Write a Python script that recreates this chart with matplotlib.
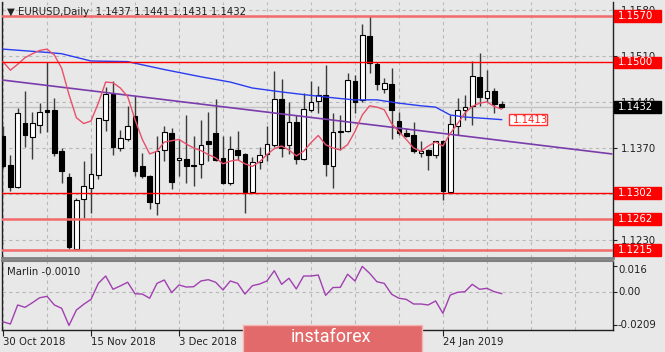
import matplotlib
matplotlib.use("Agg")
import matplotlib.pyplot as plt
from matplotlib.patches import Rectangle, FancyBboxPatch
from matplotlib.transforms import blended_transform_factory
import numpy as np

# ---- data (EURUSD daily) ----
opens = [1.1388, 1.1344, 1.1311, 1.1408, 1.1387, 1.1405, 1.1428, 1.1428, 1.1365, 1.1326,
         1.1216, 1.1293, 1.1310, 1.1329, 1.1413, 1.1452, 1.1370, 1.1384, 1.1418, 1.1342,
         1.1328, 1.1287, 1.1367, 1.1393, 1.1351, 1.1353, 1.1344, 1.1345, 1.1380, 1.1393,
         1.1355, 1.1317, 1.1367, 1.1361, 1.1303, 1.1348, 1.1361, 1.1375, 1.1444, 1.1375,
         1.1409, 1.1353, 1.1428, 1.1442, 1.1451, 1.1343, 1.1394, 1.1395, 1.1472, 1.1443,
         1.1540, 1.1498, 1.1459, 1.1467, 1.1411, 1.1393, 1.1389, 1.1362, 1.1367, 1.1360,
         1.1381, 1.1303, 1.1404, 1.1427, 1.1433, 1.1478, 1.1446, 1.1456, 1.1437]
highs = [1.1403, 1.1360, 1.1431, 1.1456, 1.1424, 1.1438, 1.1501, 1.1446, 1.1370, 1.1332,
         1.1294, 1.1350, 1.1362, 1.1416, 1.1463, 1.1471, 1.1398, 1.1433, 1.1449, 1.1362,
         1.1329, 1.1388, 1.1403, 1.1400, 1.1383, 1.1420, 1.1388, 1.1413, 1.1424, 1.1444,
         1.1388, 1.1388, 1.1395, 1.1362, 1.1357, 1.1372, 1.1403, 1.1487, 1.1474, 1.1439,
         1.1420, 1.1454, 1.1472, 1.1464, 1.1496, 1.1423, 1.1420, 1.1484, 1.1481, 1.1558,
         1.1570, 1.1501, 1.1476, 1.1491, 1.1425, 1.1400, 1.1410, 1.1380, 1.1368, 1.1381,
         1.1382, 1.1420, 1.1446, 1.1451, 1.1502, 1.1514, 1.1488, 1.1461, 1.1441]
lows = [1.1340, 1.1304, 1.1310, 1.1372, 1.1353, 1.1392, 1.1394, 1.1358, 1.1317, 1.1217,
        1.1215, 1.1264, 1.1272, 1.1323, 1.1395, 1.1360, 1.1365, 1.1380, 1.1327, 1.1325,
        1.1278, 1.1269, 1.1350, 1.1307, 1.1327, 1.1317, 1.1312, 1.1325, 1.1350, 1.1350,
        1.1316, 1.1314, 1.1352, 1.1272, 1.1302, 1.1338, 1.1350, 1.1371, 1.1357, 1.1361,
        1.1345, 1.1352, 1.1425, 1.1423, 1.1327, 1.1309, 1.1367, 1.1394, 1.1423, 1.1440,
        1.1484, 1.1458, 1.1453, 1.1383, 1.1390, 1.1386, 1.1362, 1.1357, 1.1337, 1.1355,
        1.1291, 1.1302, 1.1389, 1.1413, 1.1405, 1.1433, 1.1440, 1.1423, 1.1431]
closes = [1.1343, 1.1311, 1.1423, 1.1389, 1.1408, 1.1425, 1.1425, 1.1362, 1.1335, 1.1219,
          1.1291, 1.1312, 1.1330, 1.1415, 1.1452, 1.1372, 1.1385, 1.1403, 1.1335, 1.1328,
          1.1288, 1.1365, 1.1394, 1.1318, 1.1355, 1.1342, 1.1343, 1.1375, 1.1376, 1.1352,
          1.1317, 1.1368, 1.1360, 1.1303, 1.1348, 1.1360, 1.1376, 1.1444, 1.1370, 1.1410,
          1.1353, 1.1429, 1.1440, 1.1451, 1.1345, 1.1394, 1.1395, 1.1473, 1.1440, 1.1541,
          1.1499, 1.1467, 1.1468, 1.1428, 1.1393, 1.1388, 1.1365, 1.1365, 1.1360, 1.1380,
          1.1304, 1.1406, 1.1427, 1.1432, 1.1479, 1.1447, 1.1456, 1.1437, 1.1432]

# fast moving average (red), one value per bar
ma_fast = [1.1501, 1.1488, 1.1497, 1.1507, 1.1513, 1.1518, 1.1520, 1.1511, 1.1491, 1.1451,
           1.1416, 1.1407, 1.1411, 1.1438, 1.1470, 1.1469, 1.1461, 1.1448, 1.1413, 1.1383,
           1.1361, 1.1365, 1.1379, 1.1381, 1.1383, 1.1376, 1.1370, 1.1366, 1.1360, 1.1355,
           1.1346, 1.1350, 1.1352, 1.1346, 1.1342, 1.1349, 1.1360, 1.1369, 1.1373, 1.1367,
           1.1358, 1.1365, 1.1378, 1.1389, 1.1375, 1.1370, 1.1367, 1.1375, 1.1395, 1.1420,
           1.1434, 1.1432, 1.1428, 1.1407, 1.1395, 1.1383, 1.1370, 1.1365, 1.1373, 1.1379,
           1.1373, 1.1392, 1.1407, 1.1423, 1.1433, 1.1438, 1.1440, 1.1433, 1.1429]

# slow moving average (blue), sampled bars
ma_slow_bars = [0, 6, 8, 12, 17, 22, 27, 31, 34, 38, 41, 46, 48, 51, 54, 57, 59, 61, 63, 68]
ma_slow = [1.1520, 1.1515, 1.1513, 1.1502, 1.1501, 1.1489, 1.1478, 1.1470, 1.1461, 1.1455,
           1.1451, 1.1445, 1.1443, 1.1443, 1.1438, 1.1434, 1.1432, 1.1420, 1.1417, 1.1413]

# trend line anchors (bar, price)
trend_bars = [0, 83]
trend_prices = [1.1473, 1.1361]

# horizontal levels
levels_thin = [1.1500, 1.1302]
levels_thick = [1.1570, 1.1262, 1.1215]
last_price = 1.1432
ma_slow_last = 1.1413

# Marlin oscillator
marlin = [-0.0186, -0.0200, -0.0081, -0.0096, -0.0067, -0.0036, -0.0027, -0.0081, -0.0102, -0.0209,
          -0.0113, -0.0077, -0.0046, 0.0054, 0.0100, 0.0017, 0.0038, 0.0061, -0.0011, -0.0013,
          -0.0039, 0.0054, 0.0075, -0.0004, 0.0044, 0.0031, 0.0033, 0.0069, 0.0077, 0.0061,
          0.0013, 0.0069, 0.0054, -0.0013, 0.0039, 0.0050, 0.0069, 0.0133, 0.0048, 0.0086,
          0.0019, 0.0100, 0.0100, 0.0106, -0.0021, 0.0028, 0.0029, 0.0111, 0.0069, 0.0160,
          0.0117, 0.0064, 0.0054, -0.0014, -0.0039, -0.0046, -0.0075, -0.0075, -0.0081, -0.0056,
          -0.0133, -0.0019, -0.0002, 0.0002, 0.0048, 0.0017, 0.0023, 0.0002, -0.0010]

price_ticks = [1.1230, 1.1300, 1.1370, 1.1440, 1.1510, 1.1580]
price_tick_labels = ["1.1230", "", "1.1370", "1.1440", "1.1510", "1.1580"]
osc_ticks = [0.016, 0.0, -0.0209]
osc_tick_labels = ["0.016", "0.00", "-0.0209"]
date_bars = [0, 12, 24, 36, 48, 60]
# the two middle dates sit under the logo in the screenshot
date_labels = ["30 Oct 2018", "15 Nov 2018", "3 Dec 2018", "", "", "24 Jan 2019"]

# ---- figure ----
W, H = 665, 352
BG = "#e8e8e8"
FS = 7.3
fig = plt.figure(figsize=(W / 100, H / 100), dpi=100)
fig.patch.set_facecolor(BG)


def px_axes(x0, y0, x1, y1):
    return fig.add_axes([x0 / W, 1 - y1 / H, (x1 - x0) / W, (y1 - y0) / H])


ax = px_axes(2, 2, 613, 258)
ax2 = px_axes(2, 261, 613, 330)
XMIN, XMAX = -0.14, 83.2
PPU = 6590.0  # pixels per price unit
ax.set_xlim(XMIN, XMAX)
ax.set_ylim(1.1500 - 195.7 / PPU, 1.1500 + 60.3 / PPU)
ax2.set_xlim(XMIN, XMAX)
ax2.set_ylim(-0.02375, 0.019375)

for a in (ax, ax2):
    a.set_facecolor(BG)
    a.yaxis.tick_right()
    a.tick_params(axis="y", length=3, pad=3, labelsize=FS, colors="#202020")
    for s in a.spines.values():
        s.set_color("#202020")
        s.set_linewidth(1)
    a.set_xticks(np.arange(6, 84, 6), minor=True)
    a.grid(True, which="both", ls=(0, (3, 3)), color="#b8b8b8", lw=0.8, zorder=0)
    a.set_axisbelow(True)
ax.spines["top"].set_visible(False)
ax.spines["bottom"].set_color("#808080")
ax.spines["bottom"].set_linewidth(2)
ax2.spines["top"].set_color("#808080")
ax2.spines["top"].set_linewidth(1.5)

ax.set_yticks(price_ticks)
ax.set_yticklabels(price_tick_labels)
ax.set_xticks(date_bars)
ax.tick_params(axis="x", which="both", length=0, labelbottom=False)

ax2.set_yticks(osc_ticks)
ax2.set_yticklabels([])
ax2.set_xticks(date_bars)
ax2.set_xticklabels(date_labels, ha="left", fontsize=FS, color="#202020")
ax2.tick_params(axis="x", which="major", length=4, pad=1, color="#202020")
ax2.tick_params(axis="x", which="minor", length=0)
ax2.grid(False, axis="y")
ax2.axhline(0, ls=(0, (3, 3)), color="#b8b8b8", lw=0.8, zorder=0)
tr2 = blended_transform_factory(ax2.transAxes, ax2.transData)
for v, lab in zip(osc_ticks, osc_tick_labels):
    va = "top" if v > 0.01 else "center"
    ax2.text(1.0 + 5 / 611, v + (0.0008 if v > 0.01 else 0), lab, transform=tr2,
             fontsize=FS, color="#202020", ha="left", va=va, clip_on=False)

# ---- candles ----
o, h, l, c = map(np.array, (opens, highs, lows, closes))
x = np.arange(len(o))
up = c >= o
ax.vlines(x, l, h, color="#3a3a3a", lw=1, zorder=3)
bottom = np.minimum(o, c)
height = np.maximum(np.abs(c - o), 0.00008)
ax.bar(x[up], height[up], bottom=bottom[up], width=0.62, color="white",
       edgecolor="black", lw=0.8, zorder=4)
ax.bar(x[~up], height[~up], bottom=bottom[~up], width=0.62, color="black",
       edgecolor="black", lw=0.8, zorder=4)

# ---- indicators ----
ax.plot(trend_bars, trend_prices, color="#7a3cab", lw=1.2, zorder=5)
ax.plot(ma_slow_bars, ma_slow, color="#2a3cf0", lw=1, zorder=5)
ax.plot(x, ma_fast, color="#e8506a", lw=1, zorder=5)
ax.axhline(last_price, color="#c4c4c4", lw=1, zorder=2)
for lv in levels_thin:
    ax.axhline(lv, color="#ff0000", lw=1, zorder=6)
for lv in levels_thick:
    ax.axhline(lv, color="#f26a6a", lw=1.8, zorder=6)

tr = blended_transform_factory(ax.transAxes, ax.transData)
tag_h = 11.5 / PPU


def price_tag(y, text, face, color, edge, x0_px, w_px):
    ax.add_patch(Rectangle(((x0_px - 2) / 611, y - tag_h / 2), w_px / 611, tag_h,
                           transform=tr, facecolor=face, edgecolor=edge, lw=1,
                           clip_on=False, zorder=10))
    ax.text((x0_px + 4 - 2) / 611, y, text, transform=tr, fontsize=FS, color=color,
            ha="left", va="center", clip_on=False, zorder=11)


for lv in levels_thin + levels_thick:
    price_tag(lv, f"{lv:.4f}", "#ff0000", "white", "#ff0000", 614, 47)
price_tag(last_price, f"{last_price:.4f}", "black", "white", "black", 614, 47)
price_tag(ma_slow_last, f"{ma_slow_last:.4f}", "white", "#ff2020", "#ff3030", 509, 38)

ax2.plot(x, marlin, color="#a040b0", lw=1, zorder=3)

# ---- captions ----
fig.text(7 / W, 1 - 12 / H, "\u25bc EURUSD,Daily  1.1437 1.1441 1.1431 1.1432",
         fontsize=FS, color="#202020", va="center", ha="left")
fig.text(7 / W, 1 - 272 / H, "Marlin -0.0010", fontsize=FS, color="#202020",
         va="center", ha="left")

# logo
fig.patches.append(FancyBboxPatch((243 / W, -0.02), 179 / W, 34 / H,
                                  boxstyle="square,pad=0", transform=fig.transFigure,
                                  facecolor="#e36a6a", edgecolor="#f4b4b4", lw=1,
                                  zorder=20))
fig.text(331 / W, 1 - 337 / H, "instaforex", fontsize=13, color="white",
         ha="center", va="center", family="Roboto", zorder=21)

fig.savefig("out.png", dpi=100, facecolor=BG)
